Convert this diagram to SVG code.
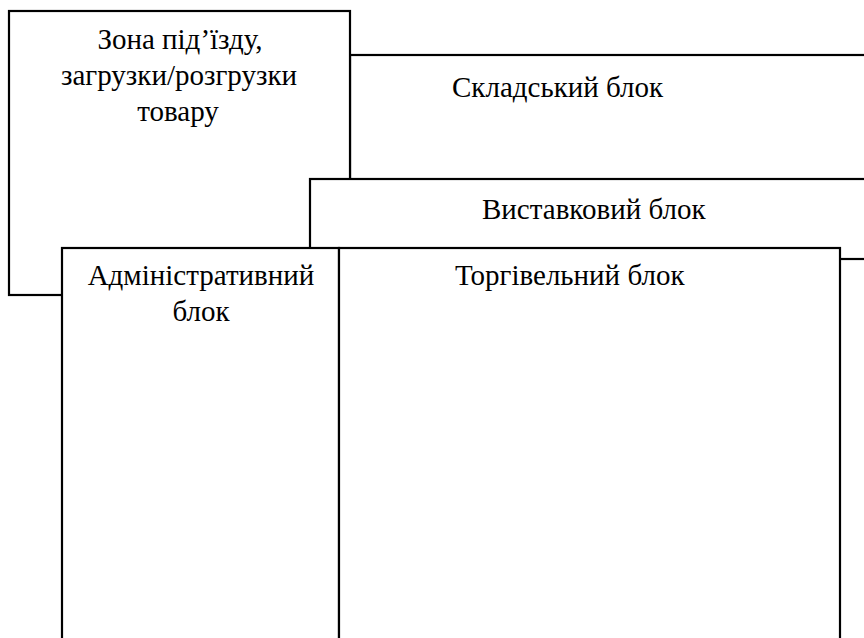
<svg xmlns="http://www.w3.org/2000/svg" width="864" height="638" viewBox="0 0 864 638">
<style>
.box{fill:#ffffff;stroke:#000000;stroke-width:2.2}
.lbl{font-family:"Liberation Serif","Times New Roman",serif;font-size:29px;fill:#000000}
.c{text-anchor:middle}
</style>
<rect width="864" height="638" fill="#ffffff"/>
<g id="sklad">
<rect class="box" x="350" y="55" width="530" height="150"/>
<text class="lbl" x="452" y="97">Складський блок</text>
</g>
<g id="zona">
<rect class="box" x="9" y="11" width="341" height="284"/>
<text class="lbl c" x="180" y="49">Зона під’їзду,</text>
<text class="lbl c" x="179" y="85">загрузки/розгрузки</text>
<text class="lbl c" x="178" y="121">товару</text>
</g>
<g id="vystav">
<rect class="box" x="310" y="179" width="570" height="80"/>
<text class="lbl" x="482" y="219">Виставковий блок</text>
</g>
<g id="admin">
<rect class="box" x="62" y="248" width="277" height="410"/>
<text class="lbl c" x="201" y="285">Адміністративний</text>
<text class="lbl c" x="201" y="321">блок</text>
</g>
<g id="torg">
<rect class="box" x="339" y="248" width="501" height="410"/>
<text class="lbl" x="455" y="285">Торгівельний блок</text>
</g>
<g id="connectors"></g>
</svg>
